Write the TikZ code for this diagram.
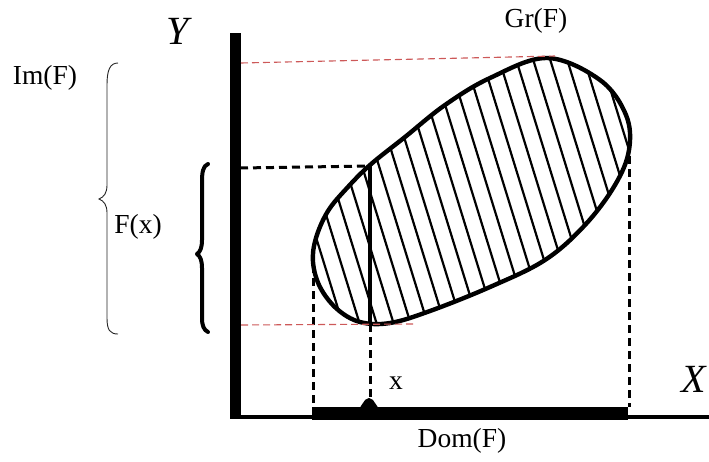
\documentclass[tikz,border=0pt]{standalone}
\usepackage{fontspec}
\setmainfont{Liberation Serif}
\begin{document}
\begin{tikzpicture}[x=1pt,y=-1pt,
  lbl/.style={font=\fontsize{27.5}{30}\selectfont, inner sep=0pt},
  axislbl/.style={font=\fontsize{40}{42}\selectfont\itshape, inner sep=0pt},
  blkdash/.style={line width=3pt, dash pattern=on 8pt off 5pt},
  reddash/.style={draw=red!70!black!65, line width=1.1pt, dash pattern=on 7pt off 4pt},
  outline/.style={line width=4.4pt, line join=round},
  hatch/.style={line width=2.2pt},
  thinbrace/.style={line width=0.9pt, draw=black!85},
  thickbrace/.style={line width=4pt, line cap=round, line join=round}]
\useasboundingbox (0,0) rectangle (709,461);

% hatching
\begin{scope}
\clip plot[smooth cycle, tension=0.6] coordinates {(547,58) (600,80) (626,115) (629,150) (615,185) (585,225) (545,260) (490,287) (430,311) (390,323) (360,322) (337,309) (320,287) (313,262) (316,238) (328,211) (347,188) (370,165) (405,137) (445,105) (490,78)};
\foreach \x in {150,167,...,660} \draw[hatch] (\x,30) -- ++(105,340);
\end{scope}
\draw[outline] plot[smooth cycle, tension=0.6] coordinates {(547,58) (600,80) (626,115) (629,150) (615,185) (585,225) (545,260) (490,287) (430,311) (390,323) (360,322) (337,309) (320,287) (313,262) (316,238) (328,211) (347,188) (370,165) (405,137) (445,105) (490,78)};

% axes
\coordinate (ytop) at (235,33);
\coordinate (ybot) at (235,418);
\coordinate (xl) at (230,417);
\coordinate (xr) at (712,417);
\draw[line width=11pt] (ytop) -- (ybot);
\draw[line width=4.5pt] (xl) -- (xr);
\fill (312,407) rectangle (628,420);
\fill (357,409) .. controls (362,409) and (363,398) .. (369,398) .. controls (375,398) and (376,409) .. (381,409) -- cycle;

% guide lines
\coordinate (yfx) at (240,168);
\coordinate (fxtop) at (370,166);
\coordinate (fxbot) at (370,324);
\coordinate (xpt) at (370,400);
\coordinate (domLt) at (313,265);
\coordinate (domLb) at (313,407);
\coordinate (domRt) at (629,156);
\coordinate (domRb) at (629,407);
\coordinate (imtopL) at (241,63);
\coordinate (imtopR) at (555,56);
\coordinate (imbotL) at (241,325);
\coordinate (imbotR) at (413,324);
\draw[blkdash] (yfx) -- (fxtop);
\draw[line width=4pt] (fxtop) -- (fxbot);
\draw[blkdash] (fxbot) -- (xpt);
\draw[blkdash] (domLt) -- (domLb);
\draw[blkdash] (domRt) -- (domRb);
\draw[reddash] (imtopL) -- (imtopR);
\draw[reddash] (imbotL) -- (imbotR);

% braces
\draw[thinbrace] (118,63) .. controls (110,63) and (107,70) .. (107,85) -- (107,185)
  .. controls (107,193) and (104,197) .. (99,199) .. controls (104,201) and (107,205) .. (107,213)
  -- (107,318) .. controls (107,330) and (110,334) .. (118,334);
\draw[thickbrace] (208,164) .. controls (203,166) and (202,172) .. (202,182) -- (202,240)
  .. controls (202,248) and (200,252) .. (197,254) .. controls (200,256) and (202,260) .. (202,268)
  -- (202,318) .. controls (202,326) and (204,330) .. (208,332);

% labels
\node[lbl] (im) at (45,78) {Im(F)};
\node[lbl] (gr) at (536,21) {Gr(F)};
\node[lbl] (fx) at (138,227) {F(x)};
\node[lbl] (dom) at (462,441) {Dom(F)};
\node[lbl] (xlab) at (396,383) {x};
\node[axislbl] (Ylab) at (178,31) {Y};
\node[axislbl] (Xlab) at (694,379) {X};
\end{tikzpicture}
\end{document}
